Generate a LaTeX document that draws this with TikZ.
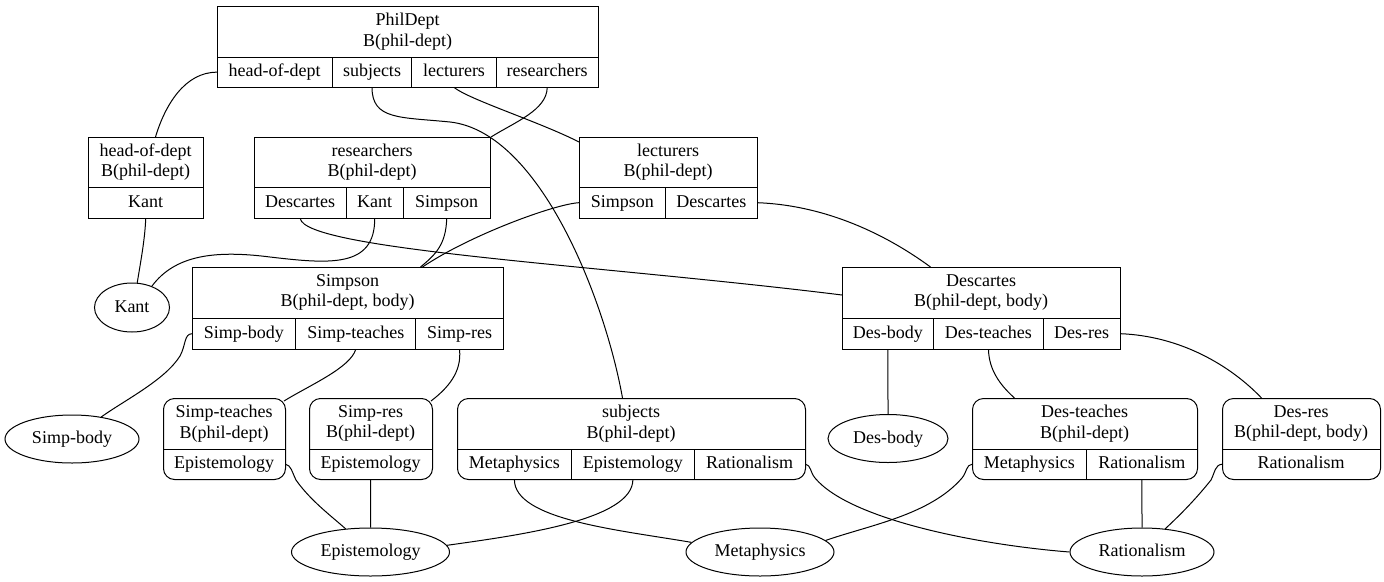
\documentclass[tikz,border=0pt]{standalone}
\usepackage{fontspec}
\setmainfont{Liberation Serif}
\usetikzlibrary{shapes.geometric}
\tikzset{
  rec/.style={draw, line width=1pt, rectangle, inner sep=0pt, anchor=north west},
  rrec/.style={rec, rounded corners=11pt},
  cell/.style={inner sep=0pt, anchor=north west, align=center, font=\fontsize{18}{20.5}\selectfont},
  fcell/.style={cell, text height=13pt, text depth=4pt},
  ell/.style={draw, ellipse, inner sep=0pt, line width=1pt, text height=13pt, text depth=4pt, font=\fontsize{18}{20.5}\selectfont},
  edge/.style={line width=1pt},
  div/.style={line width=1pt}
}
\begin{document}
\begin{tikzpicture}[x=1pt,y=-1pt]
\fill[white] (0,0) rectangle (1384,581);
\useasboundingbox (0,0) rectangle (1384,581);

% PhilDept
\node[rec, minimum width=381pt, minimum height=81pt] (PD) at (217,6) {};
\node[cell, minimum width=381pt, minimum height=51pt] (PDh) at (217,6) {PhilDept\\B(phil-dept)};
\node[fcell, minimum width=115pt, minimum height=30pt] (PDa) at (217,57) {head-of-dept};
\node[fcell, minimum width=79.6pt, minimum height=30pt] (PDb) at (332,57) {subjects};
\node[fcell, minimum width=84.4pt, minimum height=30pt] (PDc) at (411.6,57) {lecturers};
\node[fcell, minimum width=102pt, minimum height=30pt] (PDd) at (496,57) {researchers};
\draw[div] (PDa.north west) -- (PDd.north east);
\draw[div] (PDb.north west) -- (PDb.south west);
\draw[div] (PDc.north west) -- (PDc.south west);
\draw[div] (PDd.north west) -- (PDd.south west);

% head-of-dept
\node[rec, minimum width=115pt, minimum height=81pt] (HOD) at (88,137) {};
\node[cell, minimum width=115pt, minimum height=50pt] (HODh) at (88,137) {head-of-dept\\B(phil-dept)};
\node[fcell, minimum width=115pt, minimum height=31pt] (HODa) at (88,187) {Kant};
\draw[div] (HODa.north west) -- (HODa.north east);

% researchers
\node[rec, minimum width=236pt, minimum height=81pt] (RES) at (254,137) {};
\node[cell, minimum width=236pt, minimum height=50pt] (RESh) at (254,137) {researchers\\B(phil-dept)};
\node[fcell, minimum width=92pt, minimum height=31pt] (RESa) at (254,187) {Descartes};
\node[fcell, minimum width=57pt, minimum height=31pt] (RESb) at (346,187) {Kant};
\node[fcell, minimum width=87pt, minimum height=31pt] (RESc) at (403,187) {Simpson};
\draw[div] (RESa.north west) -- (RESc.north east);
\draw[div] (RESb.north west) -- (RESb.south west);
\draw[div] (RESc.north west) -- (RESc.south west);

% lecturers
\node[rec, minimum width=178pt, minimum height=81pt] (LEC) at (579,137) {};
\node[cell, minimum width=178pt, minimum height=50pt] (LECh) at (579,137) {lecturers\\B(phil-dept)};
\node[fcell, minimum width=86.5pt, minimum height=31pt] (LECa) at (579,187) {Simpson};
\node[fcell, minimum width=91.5pt, minimum height=31pt] (LECb) at (665.5,187) {Descartes};
\draw[div] (LECa.north west) -- (LECb.north east);
\draw[div] (LECb.north west) -- (LECb.south west);

% Simpson
\node[rec, minimum width=311pt, minimum height=82pt] (SIM) at (192,267) {};
\node[cell, minimum width=311pt, minimum height=51pt] (SIMh) at (192,267) {Simpson\\B(phil-dept, body)};
\node[fcell, minimum width=103.5pt, minimum height=31pt] (SIMa) at (192,318) {Simp-body};
\node[fcell, minimum width=120.1pt, minimum height=31pt] (SIMb) at (295.5,318) {Simp-teaches};
\node[fcell, minimum width=87.4pt, minimum height=31pt] (SIMc) at (415.6,318) {Simp-res};
\draw[div] (SIMa.north west) -- (SIMc.north east);
\draw[div] (SIMb.north west) -- (SIMb.south west);
\draw[div] (SIMc.north west) -- (SIMc.south west);

% Descartes
\node[rec, minimum width=278pt, minimum height=82pt] (DES) at (842,267) {};
\node[cell, minimum width=278pt, minimum height=51pt] (DESh) at (842,267) {Descartes\\B(phil-dept, body)};
\node[fcell, minimum width=91.5pt, minimum height=31pt] (DESa) at (842,318) {Des-body};
\node[fcell, minimum width=109.5pt, minimum height=31pt] (DESb) at (933.5,318) {Des-teaches};
\node[fcell, minimum width=77pt, minimum height=31pt] (DESc) at (1043,318) {Des-res};
\draw[div] (DESa.north west) -- (DESc.north east);
\draw[div] (DESb.north west) -- (DESb.south west);
\draw[div] (DESc.north west) -- (DESc.south west);

% Simp-teaches
\node[rrec, minimum width=122pt, minimum height=81pt] (ST) at (163,398) {};
\node[cell, minimum width=122pt, minimum height=51pt] (STh) at (163,398) {Simp-teaches\\B(phil-dept)};
\node[fcell, minimum width=122pt, minimum height=30pt] (STa) at (163,449) {Epistemology};
\draw[div] (STa.north west) -- (STa.north east);

% Simp-res
\node[rrec, minimum width=123pt, minimum height=81pt] (SR) at (309,398) {};
\node[cell, minimum width=123pt, minimum height=51pt] (SRh) at (309,398) {Simp-res\\B(phil-dept)};
\node[fcell, minimum width=123pt, minimum height=30pt] (SRa) at (309,449) {Epistemology};
\draw[div] (SRa.north west) -- (SRa.north east);

% subjects
\node[rrec, minimum width=348pt, minimum height=81pt] (SUB) at (457,398) {};
\node[cell, minimum width=348pt, minimum height=51pt] (SUBh) at (457,398) {subjects\\B(phil-dept)};
\node[fcell, minimum width=114.4pt, minimum height=30pt] (SUBa) at (457,449) {Metaphysics};
\node[fcell, minimum width=122.6pt, minimum height=30pt] (SUBb) at (571.4,449) {Epistemology};
\node[fcell, minimum width=111pt, minimum height=30pt] (SUBc) at (694,449) {Rationalism};
\draw[div] (SUBa.north west) -- (SUBc.north east);
\draw[div] (SUBb.north west) -- (SUBb.south west);
\draw[div] (SUBc.north west) -- (SUBc.south west);

% Des-teaches
\node[rrec, minimum width=225pt, minimum height=81pt] (DT) at (972,398) {};
\node[cell, minimum width=225pt, minimum height=51pt] (DTh) at (972,398) {Des-teaches\\B(phil-dept)};
\node[fcell, minimum width=114.5pt, minimum height=30pt] (DTa) at (972,449) {Metaphysics};
\node[fcell, minimum width=110.5pt, minimum height=30pt] (DTb) at (1086.5,449) {Rationalism};
\draw[div] (DTa.north west) -- (DTb.north east);
\draw[div] (DTb.north west) -- (DTb.south west);

% Des-res
\node[rrec, minimum width=158pt, minimum height=81pt] (DR) at (1222,398) {};
\node[cell, minimum width=158pt, minimum height=51pt] (DRh) at (1222,398) {Des-res\\B(phil-dept, body)};
\node[fcell, minimum width=158pt, minimum height=30pt] (DRa) at (1222,449) {Rationalism};
\draw[div] (DRa.north west) -- (DRa.north east);

% ellipses
\node[ell, minimum width=75pt, minimum height=49pt] (Kant) at (132,307.5) {Kant};
\node[ell, minimum width=134pt, minimum height=48pt] (SB) at (72,439) {Simp-body};
\node[ell, minimum width=120pt, minimum height=48pt] (DB) at (888,438.5) {Des-body};
\node[ell, minimum width=158pt, minimum height=48pt] (EP) at (370.5,552) {Epistemology};
\node[ell, minimum width=148pt, minimum height=48pt] (MP) at (760,552) {Metaphysics};
\node[ell, minimum width=144pt, minimum height=48pt] (RA) at (1142,552) {Rationalism};

% edges
\draw[edge] (PDa.west) .. controls (185,72) and (165,105) .. ([xshift=9.5pt]HOD.north);
\draw[edge] (PDb.south) .. controls (372,120) and (400,117) .. (450,122) .. controls (540,132) and (605,300) .. ([xshift=-9pt]SUB.north);
\draw[edge] (PDc.south) .. controls (470,100) and (540,122) .. ([yshift=-5pt]LEC.north west);
\draw[edge] (PDd.south) .. controls (547,110) and (515,122) .. (RES.north east);
\draw[edge] (HODa.south) .. controls (145,240) and (140,265) .. (Kant.78);
\draw[edge] (RESb.south) .. controls (375,268) and (330,264) .. (270,257) .. controls (215,250) and (175,255) .. (Kant.47);
\draw[edge] (RESc.south) .. controls (446,245) and (435,255) .. ([xshift=72.5pt]SIM.north);
\draw[edge] (RESa.south) .. controls (305,250) and (600,265) .. ([yshift=-28pt]DES.north west);
\draw[edge] (LECa.west) .. controls (555,204) and (470,235) .. ([xshift=74.5pt]SIM.north);
\draw[edge] (LECb.east) .. controls (820,205) and (880,230) .. ([xshift=-51pt]DES.north);
\draw[edge] (SIMa.west) .. controls (184,334) and (186,345) .. (180,356) .. controls (165,380) and (125,400) .. (SB.37);
\draw[edge] (SIMb.south) .. controls (350,368) and (310,385) .. ([xshift=-2pt,yshift=-3pt]ST.north east);
\draw[edge] (SIMc.south) .. controls (462,372) and (448,388) .. ([xshift=-2pt,yshift=-3pt]SR.north east);
\draw[edge] (DESa.south) -- (DB.north);
\draw[edge] (DESb.south) .. controls (989,370) and (1000,385) .. ([xshift=-70.5pt]DT.north);
\draw[edge] (DESc.east) .. controls (1180,336) and (1230,365) .. ([xshift=-40pt]DR.north);
\draw[edge] (STa.east) .. controls (291,465) and (292,472) .. (296,480) .. controls (310,500) and (330,515) .. (EP.137);
\draw[edge] (SRa.south) -- (EP.north);
\draw[edge] (SUBb.south) .. controls (633,520) and (520,535) .. (EP.5);
\draw[edge] (SUBa.south) .. controls (514,520) and (620,530) .. (MP.172);
\draw[edge] (SUBc.east) .. controls (811,465) and (810,472) .. (815,478) .. controls (850,520) and (980,545) .. (RA.west);
\draw[edge] (DTa.west) .. controls (966,465) and (967,472) .. (962,478) .. controls (930,515) and (870,525) .. (MP.10);
\draw[edge] (DTb.south) -- (RA.north);
\draw[edge] (DRa.west) .. controls (1215,465) and (1215,472) .. (1211,480) .. controls (1195,500) and (1180,515) .. (RA.45);
\end{tikzpicture}
\end{document}
